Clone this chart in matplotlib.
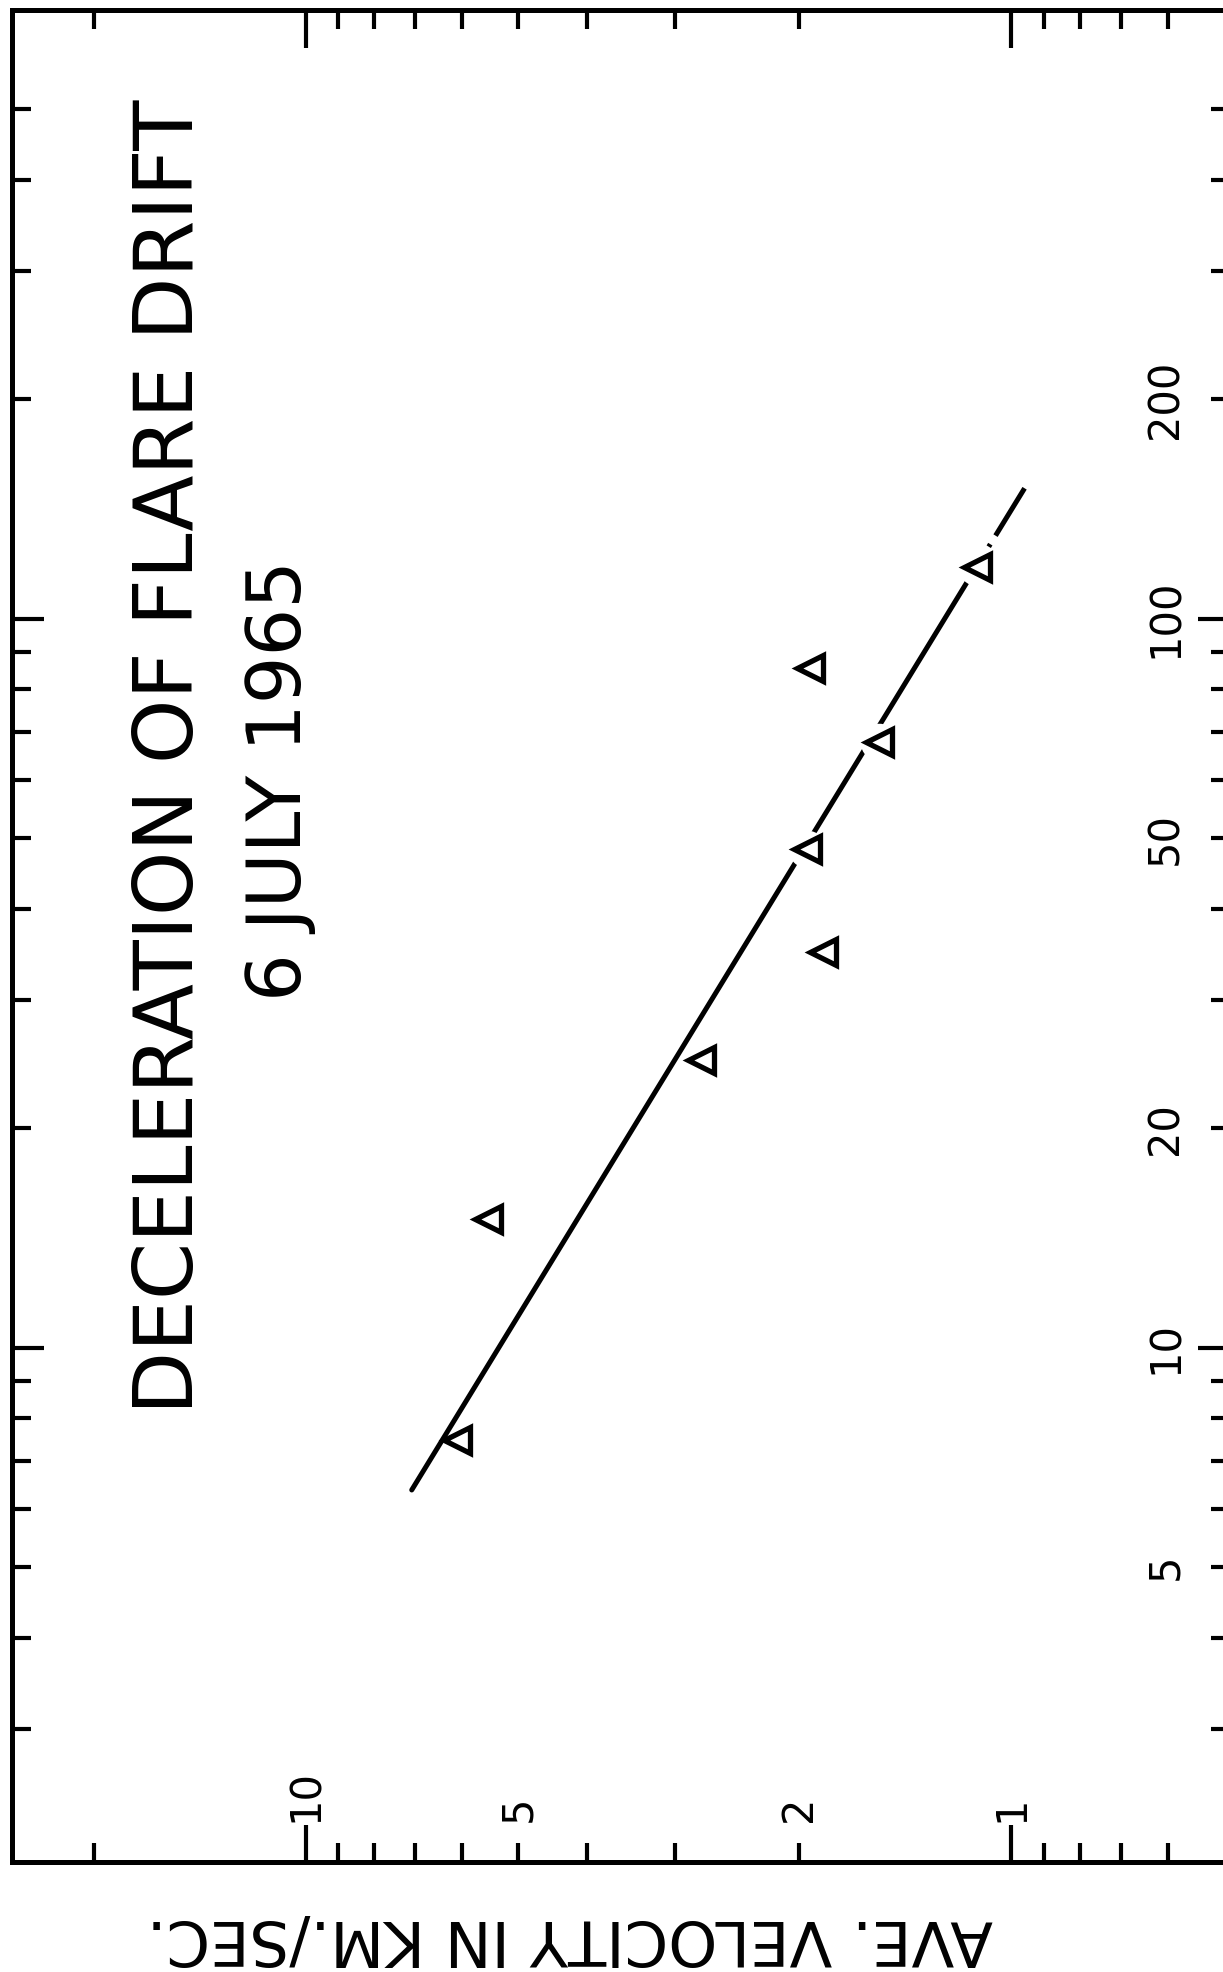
import numpy as np
import matplotlib
matplotlib.use('Agg')
import matplotlib.pyplot as plt

from matplotlib import rcParams
rcParams.update({'font.family': 'DejaVu Sans'})

# measured drift points (velocity km/s, time)
velocity = [6.11, 5.52, 2.75, 1.85, 1.95, 1.54, 1.93, 1.12]
time = [7.48, 15.0, 24.8, 34.9, 48.3, 67.8, 85.7, 117.8]
on_fit = [False, False, False, False, True, True, False, True]

# fitted line: solid part then the dash-dot extension
fit_v = [7.08, 1.12]
fit_t = [6.38, 118.0]
ext_v = [1.12, 0.958]
ext_t = [118.0, 151.0]

x_major = [10, 1]
x_minor = [20, 9, 8, 7, 6, 5, 4, 3, 2, 0.9, 0.8, 0.7, 0.6]
x_label_vals = [10, 5, 2, 1]
x_label_text = ['10', '5', '2', '1']

y_major = [10, 100]
y_minor = [3, 4, 5, 6, 7, 8, 9, 20, 30, 40, 50, 60, 70, 80, 90, 200, 300, 400, 500]
y_label_vals = [5, 10, 20, 50, 100, 200]
y_label_text = ['5', '10', '20', '50', '100', '200']


def main():
    fig = plt.figure(figsize=(12.23, 19.72), dpi=100)
    ax = fig.add_axes([12 / 1223, 110 / 1972, 1218 / 1223, 1852 / 1972])

    ax.set_xscale('log')
    ax.set_yscale('log')
    ax.set_xlim(26.1, 0.49)
    ax.set_ylim(1.97, 684)

    lw = 3.6
    ax.plot(fit_v, fit_t, color='black', lw=lw, solid_capstyle='round', zorder=2)
    ax.plot(ext_v, ext_t, color='black', lw=lw, linestyle=(22.0, (0.6, 2.0, 14, 10)), zorder=2)

    # white gaps where the line meets a point
    mv = [v for v, f in zip(velocity, on_fit) if f]
    mt = [t for t, f in zip(time, on_fit) if f]
    ax.plot(mv, mt, 'o', color='white', ms=27, mew=0, zorder=3)

    ax.plot(velocity, time, '<', ms=18.5, mfc='white', mec='black', mew=3.8, zorder=4)

    ax.xaxis.set_major_locator(plt.FixedLocator(x_major))
    ax.xaxis.set_minor_locator(plt.FixedLocator(x_minor))
    ax.yaxis.set_major_locator(plt.FixedLocator(y_major))
    ax.yaxis.set_minor_locator(plt.FixedLocator(y_minor))
    ax.xaxis.set_major_formatter(plt.NullFormatter())
    ax.xaxis.set_minor_formatter(plt.NullFormatter())
    ax.yaxis.set_major_formatter(plt.NullFormatter())
    ax.yaxis.set_minor_formatter(plt.NullFormatter())
    ax.tick_params(which='both', direction='in', top=True, right=True,
                   bottom=True, left=True, color='black')
    ax.tick_params(axis='x', which='major', length=27, width=3)
    ax.tick_params(axis='y', which='major', length=23, width=3)
    ax.tick_params(which='minor', length=14, width=3)
    for s in ax.spines.values():
        s.set_linewidth(3.6)

    # tick numbers sit inside the frame
    for v, lab in zip(x_label_vals, x_label_text):
        ax.text(v, 0.0216, lab, transform=ax.get_xaxis_transform(), rotation=90,
                ha='center', va='bottom', fontsize=30)
    for t, lab in zip(y_label_vals, y_label_text):
        ax.text(0.947, t, lab, transform=ax.get_yaxis_transform(), rotation=90,
                ha='center', va='center', fontsize=30)

    fig.text(171 / 1223, 1 - 757 / 1972, 'DECELERATION OF FLARE DRIFT', rotation=90,
             ha='center', va='center', fontsize=59)
    fig.text(280 / 1223, 1 - 781 / 1972, '6 JULY 1965', rotation=90,
             ha='center', va='center', fontsize=54)
    fig.text(570 / 1223, 1 - 1937 / 1972, 'AVE. VELOCITY IN KM./SEC.', rotation=180,
             ha='center', va='center', fontsize=45)

    fig.savefig('out.png', dpi=100)
    plt.close(fig)


if __name__ == "__main__":
    main()
